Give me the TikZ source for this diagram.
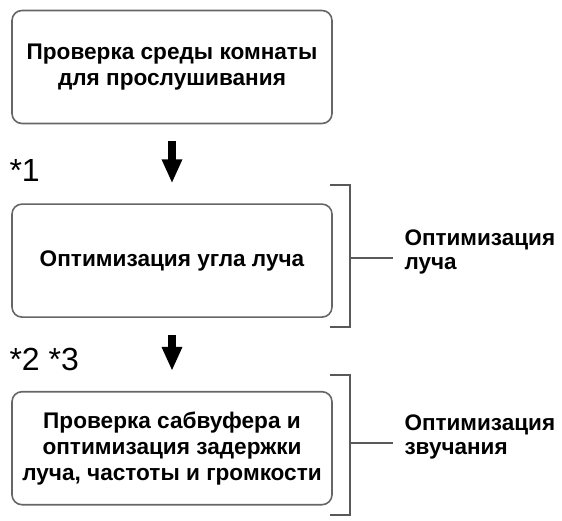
\documentclass[tikz,border=0pt]{standalone}
\usepackage{fontspec}
\setmainfont{Liberation Sans}
\usetikzlibrary{positioning,arrows.meta}
\tikzset{
	stepbox/.style={draw=black!60, line width=1.6pt, rounded corners=10pt, minimum width=320pt, minimum height=113pt, align=center, font=\bfseries\fontsize{22.6}{26}\selectfont},
	bracketline/.style={draw=black!65, line width=1.5pt},
	sidelabel/.style={anchor=west, align=left, font=\bfseries\fontsize{22.5}{24}\selectfont},
	starnote/.style={font=\fontsize{32}{32}\selectfont},
	fatarrow/.style={line width=8pt, -{Triangle[width=19pt,length=24pt]}, shorten <=17pt, shorten >=20pt}
}

\begin{document}
\begin{tikzpicture}[x=1pt, y=-1pt]
		%%%%% START %%%%%
		\useasboundingbox (0, 0) rectangle (562, 521);
		
		\node[stepbox] (check) at (172, 67) {Проверка среды комнаты\\для прослушивания};
		\node[stepbox, below=79pt of check] (angle) {Оптимизация угла луча};
		\node[stepbox, below=73pt of angle] (sub) {Проверка сабвуфера и\\оптимизация задержки\\луча, частоты и громкости};
		
		\draw[fatarrow] (check) -- (angle);
		\draw[fatarrow] (angle) -- (sub);
		
		\node[starnote, anchor=west] (note1) at (6, 170) {*1};
		\node[starnote, anchor=west] (note23) at (6, 359) {*2 *3};
		
		% bracket round the beam step
		\coordinate (b1top) at (330, 185);
		\coordinate (b1bot) at (330, 327);
		\draw[bracketline] (b1top) -- ++(20, 0) |- (b1bot);
		\coordinate (b1mid) at (350, 258);
		\node[sidelabel] (beam) at (401, 252) {Оптимизация\\луча};
		\draw[bracketline] (b1mid) -- ++(43, 0);
		
		% bracket round the sound step
		\coordinate (b2top) at (330, 375);
		\coordinate (b2bot) at (330, 515);
		\draw[bracketline] (b2top) -- ++(20, 0) |- (b2bot);
		\coordinate (b2mid) at (350, 443);
		\node[sidelabel] (sound) at (401, 437) {Оптимизация\\звучания};
		\draw[bracketline] (b2mid) -- ++(43, 0);
		
		%%%%% END %%%%%
	\end{tikzpicture}
\end{document}
